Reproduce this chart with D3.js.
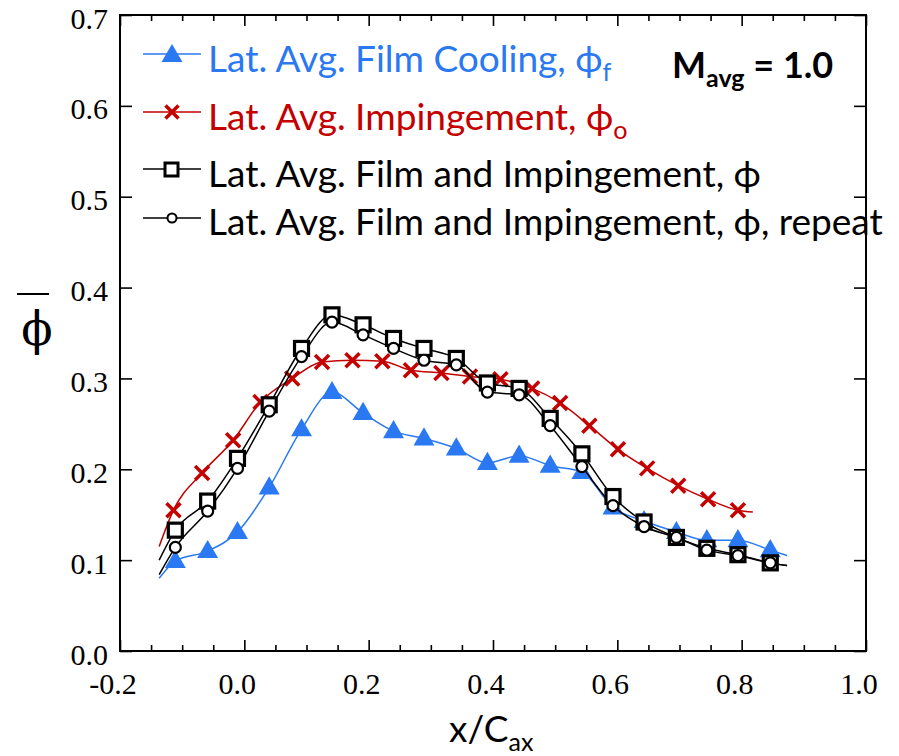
<!DOCTYPE html>
<html><head><meta charset="utf-8">
<script src="https://cdn.jsdelivr.net/npm/d3@7"></script>
<style>body{margin:0;background:#fff}</style>
</head><body><svg id="c" width="899" height="756"></svg>
<script>
// ---- tick definitions ----
const xTicks = [-0.2, 0.0, 0.2, 0.4, 0.6, 0.8, 1.0];
const xTickLabels = ["-0.2", "0.0", "0.2", "0.4", "0.6", "0.8", "1.0"];
const yTicks = [0.0, 0.1, 0.2, 0.3, 0.4, 0.5, 0.6, 0.7];
const yTickLabels = ["0.0", "0.1", "0.2", "0.3", "0.4", "0.5", "0.6", "0.7"];

// ---- data ----
const markerX = [-0.111,-0.059,-0.011,0.040,0.092,0.141,0.191,0.240,0.289,0.341,0.391,0.442,0.492,0.543,0.593,0.643,0.695,0.744,0.794,0.846];
const filmCooling = [0.099,0.110,0.131,0.180,0.244,0.285,0.262,0.242,0.234,0.223,0.207,0.215,0.204,0.197,0.158,0.143,0.131,0.122,0.122,0.111];
const impX = [-0.114,-0.068,-0.018,0.026,0.077,0.125,0.174,0.222,0.268,0.317,0.363,0.412,0.463,0.508,0.555,0.601,0.648,0.698,0.746,0.794];
const impingement = [0.155,0.196,0.232,0.274,0.300,0.318,0.320,0.319,0.309,0.306,0.302,0.299,0.289,0.273,0.248,0.222,0.201,0.182,0.167,0.155];
const filmImp = [0.133,0.165,0.212,0.271,0.333,0.370,0.359,0.344,0.333,0.322,0.295,0.289,0.256,0.217,0.170,0.142,0.125,0.113,0.106,0.097];
const filmImpRepeat = [0.114,0.154,0.201,0.264,0.324,0.362,0.348,0.333,0.320,0.315,0.285,0.282,0.248,0.203,0.160,0.137,0.125,0.111,0.105,0.097];
// line end points (the measured curves extend past the markers)
const filmLineEnds = [[-0.137, 0.080], [0.873, 0.105]];
const impLineEnds = [[-0.137, 0.115], [0.818, 0.153]];
const filmImpLineEnds = [[-0.137, 0.100], [0.873, 0.094]];
const repeatLineEnds = [[-0.137, 0.084], [0.873, 0.094]];

const legendLabels = ["Lat. Avg. Film Cooling, ϕ", "Lat. Avg. Impingement, ϕ", "Lat. Avg. Film and Impingement, ϕ", "Lat. Avg. Film and Impingement, ϕ, repeat"];
const legendSubs = ["f", "o", "", ""];

const BLUE = "#2a78f2", RED = "#c40000", BLACK = "#000";

const svg = d3.select("#c");
const x = d3.scaleLinear().domain([-0.2, 1.0]).range([120, 866]);
const y = d3.scaleLinear().domain([0, 0.7]).range([651, 15]);

const minorX = d3.range(-0.15, 1.0, 0.05).filter(v => Math.abs(Math.round(v * 5) - v * 5) > 1e-6);
const serif = "'Liberation Serif', 'Times New Roman', serif";
const sans = "Lato, 'Open Sans', sans-serif";

// axes
const gB = svg.append("g").attr("transform", "translate(0,651)")
  .call(d3.axisBottom(x).tickValues(xTicks).tickFormat((d, i) => xTickLabels[i]).tickSizeInner(-11).tickSizeOuter(0));
gB.selectAll("text").attr("y", 43).attr("dy", 0).attr("dx", -7.5)
  .style("font-family", serif).style("font-size", "30px").attr("fill", "#000");
svg.append("g").attr("transform", "translate(0,651)")
  .call(d3.axisBottom(x).tickValues(minorX).tickFormat("").tickSizeInner(-6).tickSizeOuter(0));
svg.append("g").attr("transform", "translate(0,15)")
  .call(d3.axisTop(x).tickValues(xTicks).tickFormat("").tickSizeInner(-11).tickSizeOuter(0));
svg.append("g").attr("transform", "translate(0,15)")
  .call(d3.axisTop(x).tickValues(minorX).tickFormat("").tickSizeInner(-6).tickSizeOuter(0));
const gL = svg.append("g").attr("transform", "translate(120,0)")
  .call(d3.axisLeft(y).tickValues(yTicks).tickFormat((d, i) => yTickLabels[i]).tickSizeInner(-12).tickSizeOuter(0));
gL.selectAll("text").attr("x", -12).attr("dy", 0).attr("y", 13)
  .style("font-family", serif).style("font-size", "30px").attr("fill", "#000");
svg.append("g").attr("transform", "translate(866,0)")
  .call(d3.axisRight(y).tickValues(yTicks).tickFormat("").tickSizeInner(-12).tickSizeOuter(0));
svg.selectAll(".domain").remove();
svg.selectAll(".tick line").attr("stroke", "#000").attr("stroke-width", 1.6);

// frame
svg.append("rect").attr("x", 120).attr("y", 15).attr("width", 746).attr("height", 636)
  .attr("fill", "none").attr("stroke", "#000").attr("stroke-width", 2);

// series
function pts(xs, ys, ends) {
  return [ends[0]].concat(xs.map((v, i) => [v, ys[i]])).concat([ends[1]]);
}
const line = d3.line().x(d => x(d[0])).y(d => y(d[1])).curve(d3.curveMonotoneX);
const plot = svg.append("g");

function drawLine(data, color) {
  plot.append("path").attr("d", line(data)).attr("fill", "none").attr("stroke", color).attr("stroke-width", 1.5);
}
const triPath = d3.symbol().type(d3.symbolTriangle).size(190)();
const crossPath = "M-7,-7L7,7M-7,7L7,-7";

function drawTriangles(g, xs, ys) {
  g.selectAll(null).data(xs).enter().append("path").attr("d", triPath)
    .attr("transform", (d, i) => `translate(${x(d)},${y(ys[i]) + 1})`).attr("fill", BLUE);
}
function drawCrosses(g, xs, ys) {
  g.selectAll(null).data(xs).enter().append("path").attr("d", crossPath)
    .attr("transform", (d, i) => `translate(${x(d)},${y(ys[i])})`).attr("stroke", RED).attr("stroke-width", 3.5).attr("fill", "none");
}
function drawSquares(g, xs, ys) {
  g.selectAll(null).data(xs).enter().append("rect")
    .attr("x", d => x(d) - 7).attr("y", (d, i) => y(ys[i]) - 7).attr("width", 14).attr("height", 14)
    .attr("fill", "#fff").attr("stroke", BLACK).attr("stroke-width", 3.2);
}
function drawCircles(g, xs, ys) {
  g.selectAll(null).data(xs).enter().append("circle")
    .attr("cx", d => x(d)).attr("cy", (d, i) => y(ys[i])).attr("r", 5.5)
    .attr("fill", "#fff").attr("stroke", BLACK).attr("stroke-width", 2.2);
}

drawLine(pts(markerX, filmCooling, filmLineEnds), BLUE);
drawTriangles(plot.append("g"), markerX, filmCooling);
drawLine(pts(impX, impingement, impLineEnds), RED);
drawCrosses(plot.append("g"), impX, impingement);
drawLine(pts(markerX, filmImp, filmImpLineEnds), BLACK);
drawLine(pts(markerX, filmImpRepeat, repeatLineEnds), BLACK);
drawSquares(plot.append("g"), markerX, filmImp);
drawCircles(plot.append("g"), markerX, filmImpRepeat);

// legend
const legY = [54, 112, 169, 218];
const legBase = [72, 130, 187, 235];
const legColors = [BLUE, RED, BLACK, BLACK];
const leg = svg.append("g");
const texts = [];
legendLabels.forEach((lab, i) => {
  leg.append("line").attr("x1", 143).attr("x2", 201).attr("y1", legY[i]).attr("y2", legY[i])
    .attr("stroke", legColors[i]).attr("stroke-width", 1.5);
  const t = leg.append("text").attr("x", 208).attr("y", legBase[i]).attr("fill", legColors[i])
    .style("font-family", sans).style("font-size", "36px");
  t.append("tspan").text(lab);
  if (legendSubs[i]) t.append("tspan").attr("dy", 9).style("font-size", "24px").text(legendSubs[i]);
  texts.push(t);
});
// fit the longest legend entry to the picture's width
const w4 = texts[3].node().getComputedTextLength();
const fs = 36 * 675 / w4;
texts.forEach(t => {
  t.style("font-size", fs + "px");
  t.selectAll("tspan").filter((d, j) => j === 1).style("font-size", (fs * 0.68) + "px");
});
const lg = leg.append("g");
lg.append("path").attr("d", triPath).attr("transform", `translate(172,${legY[0] + 2})`).attr("fill", BLUE);
lg.append("path").attr("d", "M-6.5,-6.5L6.5,6.5M-6.5,6.5L6.5,-6.5").attr("transform", `translate(172,${legY[1]})`)
  .attr("stroke", RED).attr("stroke-width", 3.5);
lg.append("rect").attr("x", 165).attr("y", legY[2] - 6).attr("width", 13).attr("height", 13)
  .attr("fill", "#fff").attr("stroke", BLACK).attr("stroke-width", 3);
lg.append("circle").attr("cx", 172).attr("cy", legY[3]).attr("r", 4.5)
  .attr("fill", "#fff").attr("stroke", BLACK).attr("stroke-width", 2);

// M_avg annotation
const m = svg.append("text").attr("x", 672).attr("y", 78)
  .style("font-family", sans).style("font-weight", "bold").style("font-size", "36px").attr("fill", "#000");
m.append("tspan").text("M");
m.append("tspan").attr("dy", 9).style("font-size", "25px").text("avg");
m.append("tspan").attr("dy", -9).text(" = 1.0");

// axis titles
const xt = svg.append("text").attr("x", 449).attr("y", 742)
  .style("font-family", sans).style("font-size", "37px").attr("fill", "#000");
xt.append("tspan").text("x/C");
xt.append("tspan").attr("dy", 9).style("font-size", "25px").text("ax");

svg.append("line").attr("x1", 17).attr("x2", 49).attr("y1", 294).attr("y2", 294).attr("stroke", "#000").attr("stroke-width", 2);
svg.append("text").attr("x", 37).attr("y", 345).attr("text-anchor", "middle")
  .style("font-family", "'DejaVu Serif', serif").style("font-size", "46px").attr("fill", "#000").text("ϕ");
</script></body></html>
